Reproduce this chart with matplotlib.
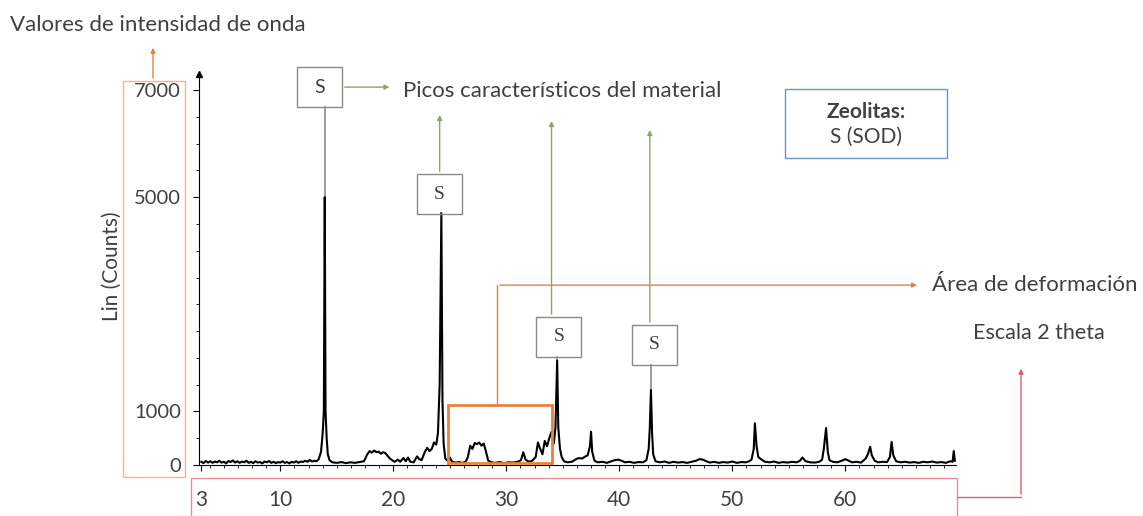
import matplotlib.pyplot as plt
from matplotlib.patches import Rectangle
from matplotlib.ticker import MultipleLocator

plt.rcParams['font.family'] = ['Lato', 'DejaVu Sans']

# diffractogram, 2-theta (deg) vs counts
two_theta = [
    3.0, 3.2, 3.4, 3.6, 3.8, 4.0, 4.2, 4.4, 4.6, 4.8, 5.0, 5.2, 5.4, 5.6, 5.8,
    6.0, 6.2, 6.4, 6.6, 6.8, 7.0, 7.2, 7.4, 7.6, 7.8, 8.0, 8.2, 8.4, 8.6, 8.8,
    9.0, 9.2, 9.4, 9.6, 9.8, 10.0, 10.2, 10.4, 10.6, 10.8, 11.0, 11.2, 11.4,
    11.6, 11.8, 12.0, 12.2, 12.4, 12.6, 12.8, 13.0, 13.2, 13.4,
    13.6, 13.75, 13.85, 13.93, 14.0, 14.1, 14.2, 14.35,
    14.6, 15.0, 15.4, 15.8, 16.2, 16.6, 17.0, 17.4, 17.7, 17.9, 18.1, 18.3,
    18.5, 18.7, 18.9, 19.1, 19.3, 19.5, 19.7, 19.9, 20.1, 20.4, 20.6, 20.9,
    21.1, 21.3, 21.5, 21.8, 22.1, 22.3, 22.5, 22.8, 23.0, 23.2, 23.4, 23.6,
    23.8, 23.95, 24.1, 24.25, 24.35, 24.45, 24.6,
    24.8, 25.0, 25.2, 25.5, 25.8, 26.1, 26.4, 26.6, 26.8, 27.0, 27.2, 27.4,
    27.6, 27.8, 28.0, 28.2, 28.4, 28.7, 29.0, 29.4, 29.8, 30.2, 30.6, 31.0,
    31.3, 31.5, 31.7, 32.0, 32.3, 32.6, 32.8, 33.0, 33.2, 33.4, 33.6, 33.8,
    34.0, 34.2, 34.35, 34.5, 34.6, 34.75, 34.9, 35.1, 35.4, 35.8, 36.1, 36.4,
    36.7, 37.0, 37.2, 37.4, 37.5, 37.6, 37.8, 38.1, 38.5, 38.9, 39.3, 39.6,
    39.9, 40.2, 40.5, 40.9, 41.3, 41.7, 42.1, 42.4, 42.6, 42.7, 42.8, 42.9,
    43.0, 43.2, 43.6, 44.0, 44.4, 44.8, 45.2, 45.6, 46.0, 46.4, 46.8, 47.1,
    47.4, 47.7, 48.0, 48.4, 48.8, 49.2, 49.6, 50.0, 50.4, 50.8, 51.2, 51.5,
    51.7, 51.9, 52.0, 52.15, 52.3, 52.6, 52.9, 53.3, 53.7, 54.1, 54.5, 54.9,
    55.3, 55.7, 56.0, 56.2, 56.5, 56.9, 57.3, 57.7, 57.95, 58.1, 58.3, 58.45,
    58.6, 58.9, 59.3, 59.7, 60.0, 60.3, 60.6, 61.0, 61.4, 61.8, 62.0, 62.2,
    62.35, 62.6, 62.9, 63.3, 63.7, 63.95, 64.1, 64.25, 64.5, 64.9, 65.3, 65.7,
    66.1, 66.5, 66.9, 67.3, 67.7, 68.1, 68.5, 68.9, 69.3, 69.5, 69.6, 69.7,
]
counts = [
    60, 35, 75, 45, 70, 40, 65, 50, 80, 45, 60, 30, 75, 55, 85,
    45, 70, 40, 65, 50, 80, 40, 60, 35, 70, 45, 55, 30, 65, 50,
    75, 40, 60, 35, 55, 45, 70, 40, 55, 30, 60, 45, 70,
    40, 65, 55, 80, 60, 95, 65, 80, 70, 110,
    250, 600, 1000, 5000, 1000, 500, 200, 90,
    50, 40, 55, 35, 50, 40, 55, 70, 200, 260, 230, 270,
    240, 250, 210, 240, 220, 170, 120, 90, 60, 100, 60, 130,
    70, 140, 60, 50, 160, 110, 90, 250, 320, 260, 300, 420,
    380, 600, 1500, 4700, 1200, 400, 120,
    80, 140, 60, 45, 55, 40, 60, 150, 360, 300, 410, 390,
    420, 360, 400, 250, 80, 50, 40, 55, 35, 50, 45, 60,
    90, 240, 100, 60, 80, 150, 420, 300, 200, 450, 350, 500,
    620, 400, 700, 1950, 700, 300, 150, 70, 50, 60, 100, 130,
    120, 160, 180, 350, 620, 250, 80, 50, 60, 40, 70, 90,
    100, 80, 50, 60, 40, 55, 50, 90, 300, 700, 1400, 600,
    200, 70, 50, 65, 40, 60, 45, 55, 40, 60, 80, 110,
    100, 70, 45, 60, 40, 55, 45, 65, 40, 55, 50, 70,
    100, 300, 780, 350, 150, 100, 60, 50, 65, 40, 55, 45,
    60, 50, 80, 140, 70, 50, 45, 60, 100, 300, 690, 250,
    90, 60, 50, 80, 110, 80, 50, 60, 45, 120, 200, 340,
    180, 80, 50, 60, 55, 150, 430, 180, 70, 50, 60, 45,
    55, 40, 60, 50, 65, 45, 55, 40, 70, 60, 260, 80,
]

# labelled sodalite reflections
peak_2theta = [13.93, 24.25, 34.5, 42.8]
peak_counts = [5000, 4700, 1950, 1400]
peak_label = ['S', 'S', 'S', 'S']
box_center = [13.45, 24.1, 34.65, 43.1]
box_bottom = [6680, 4683, 2015, 1866]

y_tick_values = [0, 1000, 5000, 7000]
x_tick_values = [3, 10, 20, 30, 40, 50, 60]

TEXT = '#404040'
ORANGE = '#e8823f'
GREEN = '#86a864'
RED = '#e35a72'
BLUE = '#6d94c7'
GRAY = '#8a8a8a'
W, H = 1143, 516

fig = plt.figure(figsize=(W / 100, H / 100), dpi=100)
ax = fig.add_axes([199 / W, 1 - 465 / H, (956 - 199) / W, (465 - 74) / H])
ax.plot(two_theta, counts, color='black', lw=1.5, zorder=3)
ax.set_xlim(2.8, 69.8)
ax.set_ylim(0, 7300)

for side in ['top', 'right']:
    ax.spines[side].set_visible(False)
ax.plot(0, 1, marker='^', color='black', ms=4, transform=ax.transAxes, clip_on=False)

ax.set_yticks(y_tick_values)
ax.set_yticklabels([str(v) for v in y_tick_values])
ax.yaxis.set_minor_locator(MultipleLocator(500))
ax.set_xticks(x_tick_values)
ax.set_xticklabels([str(v) for v in x_tick_values])
ax.xaxis.set_minor_locator(MultipleLocator(1.25))
ax.tick_params(axis='y', which='major', length=4, pad=9, labelsize=14.5, labelcolor=TEXT)
ax.tick_params(axis='y', which='minor', length=2.5)
ax.tick_params(axis='x', which='major', length=4, pad=14, labelsize=15, labelcolor=TEXT)
ax.tick_params(axis='x', which='minor', length=2.5)

# S boxes over the labelled peaks, with grey leaders down to each peak
box_w, box_h = 4.0, 750
for i, (x, y) in enumerate(zip(peak_2theta, peak_counts)):
    xc, yb = box_center[i], box_bottom[i]
    ax.add_patch(Rectangle((xc - box_w / 2, yb), box_w, box_h, fill=False,
                           ec=GRAY, lw=1, clip_on=False, zorder=4))
    fam = ['Lato'] if i == 0 else ['Liberation Serif']
    ax.text(xc, yb + box_h / 2, peak_label[i], ha='center', va='center',
            fontsize=14, color=TEXT, family=fam, clip_on=False)
    ax.plot([x, x], [y, yb], color=GRAY, lw=1.2, zorder=2, clip_on=False)

green_arrow = dict(arrowstyle='-|>', color=GREEN, lw=1, mutation_scale=7)
ax.annotate('', xy=(19.9, 7055), xytext=(box_center[0] + box_w / 2, 7055),
            arrowprops=green_arrow, annotation_clip=False)
ax.annotate('', xy=(box_center[1], 6586), xytext=(box_center[1], box_bottom[1] + box_h),
            arrowprops=green_arrow, annotation_clip=False)
ax.annotate('', xy=(34.0, 6474), xytext=(34.0, box_bottom[2] + box_h),
            arrowprops=green_arrow, annotation_clip=False)
ax.annotate('', xy=(42.7, 6306), xytext=(42.7, box_bottom[3] + box_h),
            arrowprops=green_arrow, annotation_clip=False)

# deformation area
ax.add_patch(Rectangle((24.8, 40), 9.2, 1080, fill=False, ec=ORANGE, lw=2,
                       clip_on=False, zorder=4))
ax.plot([29.2, 29.2], [1120, 3358], color=ORANGE, lw=1, clip_on=False)
ax.annotate('', xy=(66.6, 3358), xytext=(29.2, 3358),
            arrowprops=dict(arrowstyle='-|>', color=ORANGE, lw=1, mutation_scale=7),
            annotation_clip=False)

# overlay in pixel units for the free-standing notes
ov = fig.add_axes([0, 0, 1, 1], zorder=5)
ov.set_xlim(0, W)
ov.set_ylim(H, 0)
ov.axis('off')
ov.patch.set_alpha(0)

ov.text(10, 25, 'Valores de intensidad de onda', ha='left', va='center',
        fontsize=16, color=TEXT)
ov.annotate('', xy=(153, 45), xytext=(153, 81),
            arrowprops=dict(arrowstyle='-|>', color=ORANGE, lw=1, mutation_scale=7))
ov.add_patch(Rectangle((123, 81), 62, 396, fill=False, ec='#f2b48a', lw=1))
ov.text(112, 266, 'Lin (Counts)', rotation=90, ha='center', va='center',
        fontsize=15, color=TEXT)

ov.text(403, 91, 'Picos característicos del material', ha='left', va='center',
        fontsize=16, color=TEXT)
ov.text(932, 285, 'Área de deformación', ha='left', va='center',
        fontsize=16, color=TEXT)

ov.add_patch(Rectangle((785, 89), 162, 69, fill=False, ec=BLUE, lw=1))
ov.text(866, 112, 'Zeolitas:', ha='center', va='center', fontsize=15,
        fontweight='bold', color=TEXT)
ov.text(866, 137, 'S (SOD)', ha='center', va='center', fontsize=15, color=TEXT)

ov.add_patch(Rectangle((191, 478), 766, 40, fill=False, ec='#eb8c9c', lw=1, clip_on=False))
ov.plot([957, 1021], [497, 497], color=RED, lw=1)
ov.annotate('', xy=(1021, 366), xytext=(1021, 497),
            arrowprops=dict(arrowstyle='-|>', color=RED, lw=1, mutation_scale=7))
ov.text(973, 333, 'Escala 2 theta', ha='left', va='center', fontsize=15.5, color=TEXT)

fig.savefig('out.png', dpi=100)
